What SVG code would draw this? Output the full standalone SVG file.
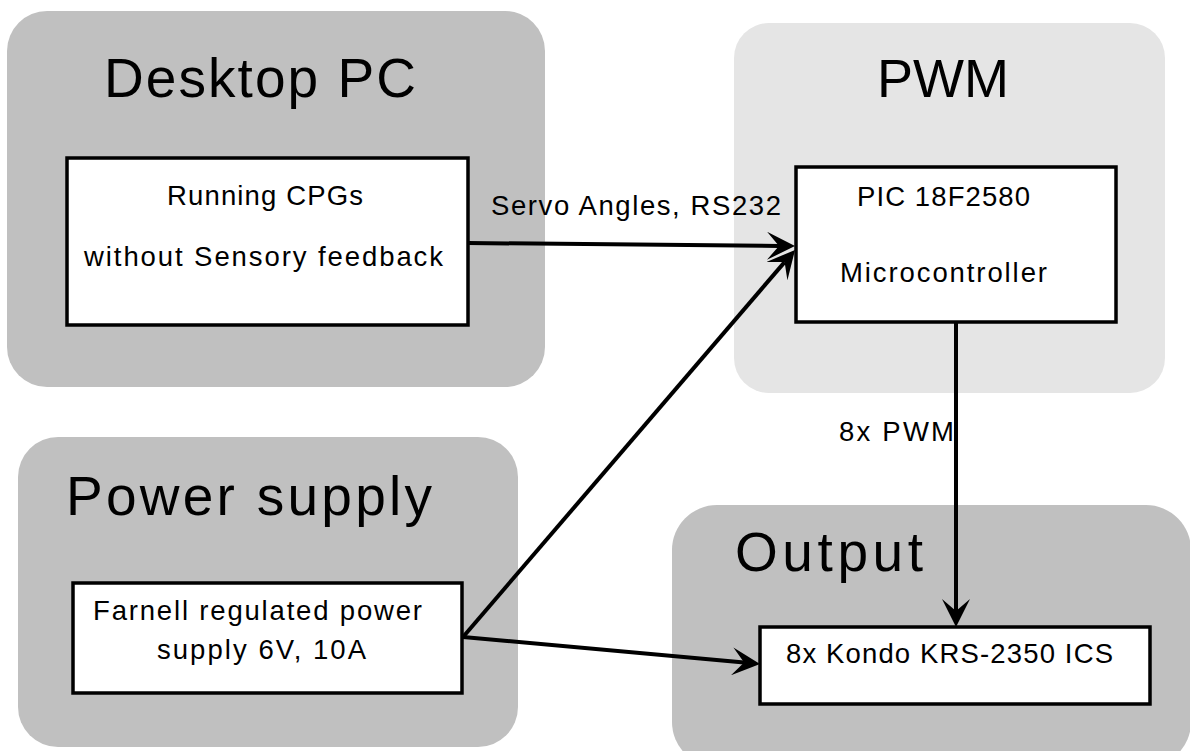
<svg xmlns="http://www.w3.org/2000/svg" width="1190" height="751" viewBox="0 0 1190 751">
<style>
.dark{fill:#c0c0c0;}
.light{fill:#e5e5e5;}
.box{fill:#ffffff;stroke:#000000;stroke-width:3.5;}
.title{font-family:"Liberation Sans",Arial,sans-serif;font-size:55px;fill:#000;}
.lbl{font-family:"Liberation Sans",Arial,sans-serif;font-size:27.5px;fill:#000;}
.conn{stroke:#000;stroke-width:4;fill:none;marker-end:url(#arr);}
</style>
<defs>
<marker id="arr" viewBox="0 0 28 28" markerWidth="28" markerHeight="28" refX="12" refY="14" orient="auto" markerUnits="userSpaceOnUse">
<path d="M28,14 L0,0 L12,14 L0,28 Z" fill="#000"/>
</marker>
</defs>
<rect x="0" y="0" width="1190" height="751" fill="#ffffff"/>
<g id="desktop-pc">
<rect class="dark" x="7" y="11" width="538" height="376" rx="40" ry="40"/>
<text class="title" x="104" y="97" textLength="312" lengthAdjust="spacing">Desktop PC</text>
<rect class="box" x="67" y="158" width="401" height="167"/>
<text class="lbl" x="167" y="205" textLength="196" lengthAdjust="spacing">Running CPGs</text>
<text class="lbl" x="84" y="266" textLength="359" lengthAdjust="spacing">without Sensory feedback</text>
</g>
<g id="pwm">
<rect class="light" x="734" y="23" width="431" height="370" rx="35" ry="35"/>
<text class="title" x="877" y="97" style="font-size:54px">PWM</text>
<rect class="box" x="796" y="167" width="320" height="155"/>
<text class="lbl" x="857" y="206" textLength="173" lengthAdjust="spacing">PIC 18F2580</text>
<text class="lbl" x="840" y="282" textLength="207" lengthAdjust="spacing">Microcontroller</text>
</g>
<g id="power-supply">
<rect class="dark" x="18" y="437" width="500" height="310" rx="40" ry="40"/>
<text class="title" x="66" y="515" textLength="366" lengthAdjust="spacing">Power supply</text>
<rect class="box" x="73" y="583" width="389" height="110"/>
<text class="lbl" x="93" y="620" textLength="329" lengthAdjust="spacing">Farnell regulated power</text>
<text class="lbl" x="157" y="659" textLength="209" lengthAdjust="spacing">supply 6V, 10A</text>
</g>
<g id="output">
<rect class="dark" x="672" y="505" width="519" height="262" rx="45" ry="45"/>
<text class="title" x="735" y="571" textLength="188" lengthAdjust="spacing">Output</text>
<rect class="box" x="760" y="627" width="390" height="77"/>
<text class="lbl" x="786" y="663" textLength="327" lengthAdjust="spacing">8x Kondo KRS-2350 ICS</text>
</g>
<g id="connectors">
<line class="conn" x1="468" y1="243" x2="779" y2="245.9"/>
<line class="conn" x1="463" y1="637" x2="784.6" y2="262.1"/>
<line class="conn" x1="956" y1="322" x2="956" y2="611"/>
<line class="conn" x1="463" y1="637" x2="744.1" y2="662.5"/>
<text class="lbl" x="491" y="215" textLength="290" lengthAdjust="spacing">Servo Angles, RS232</text>
<text class="lbl" x="839" y="441" textLength="115" lengthAdjust="spacing">8x PWM</text>
</g>
</svg>
